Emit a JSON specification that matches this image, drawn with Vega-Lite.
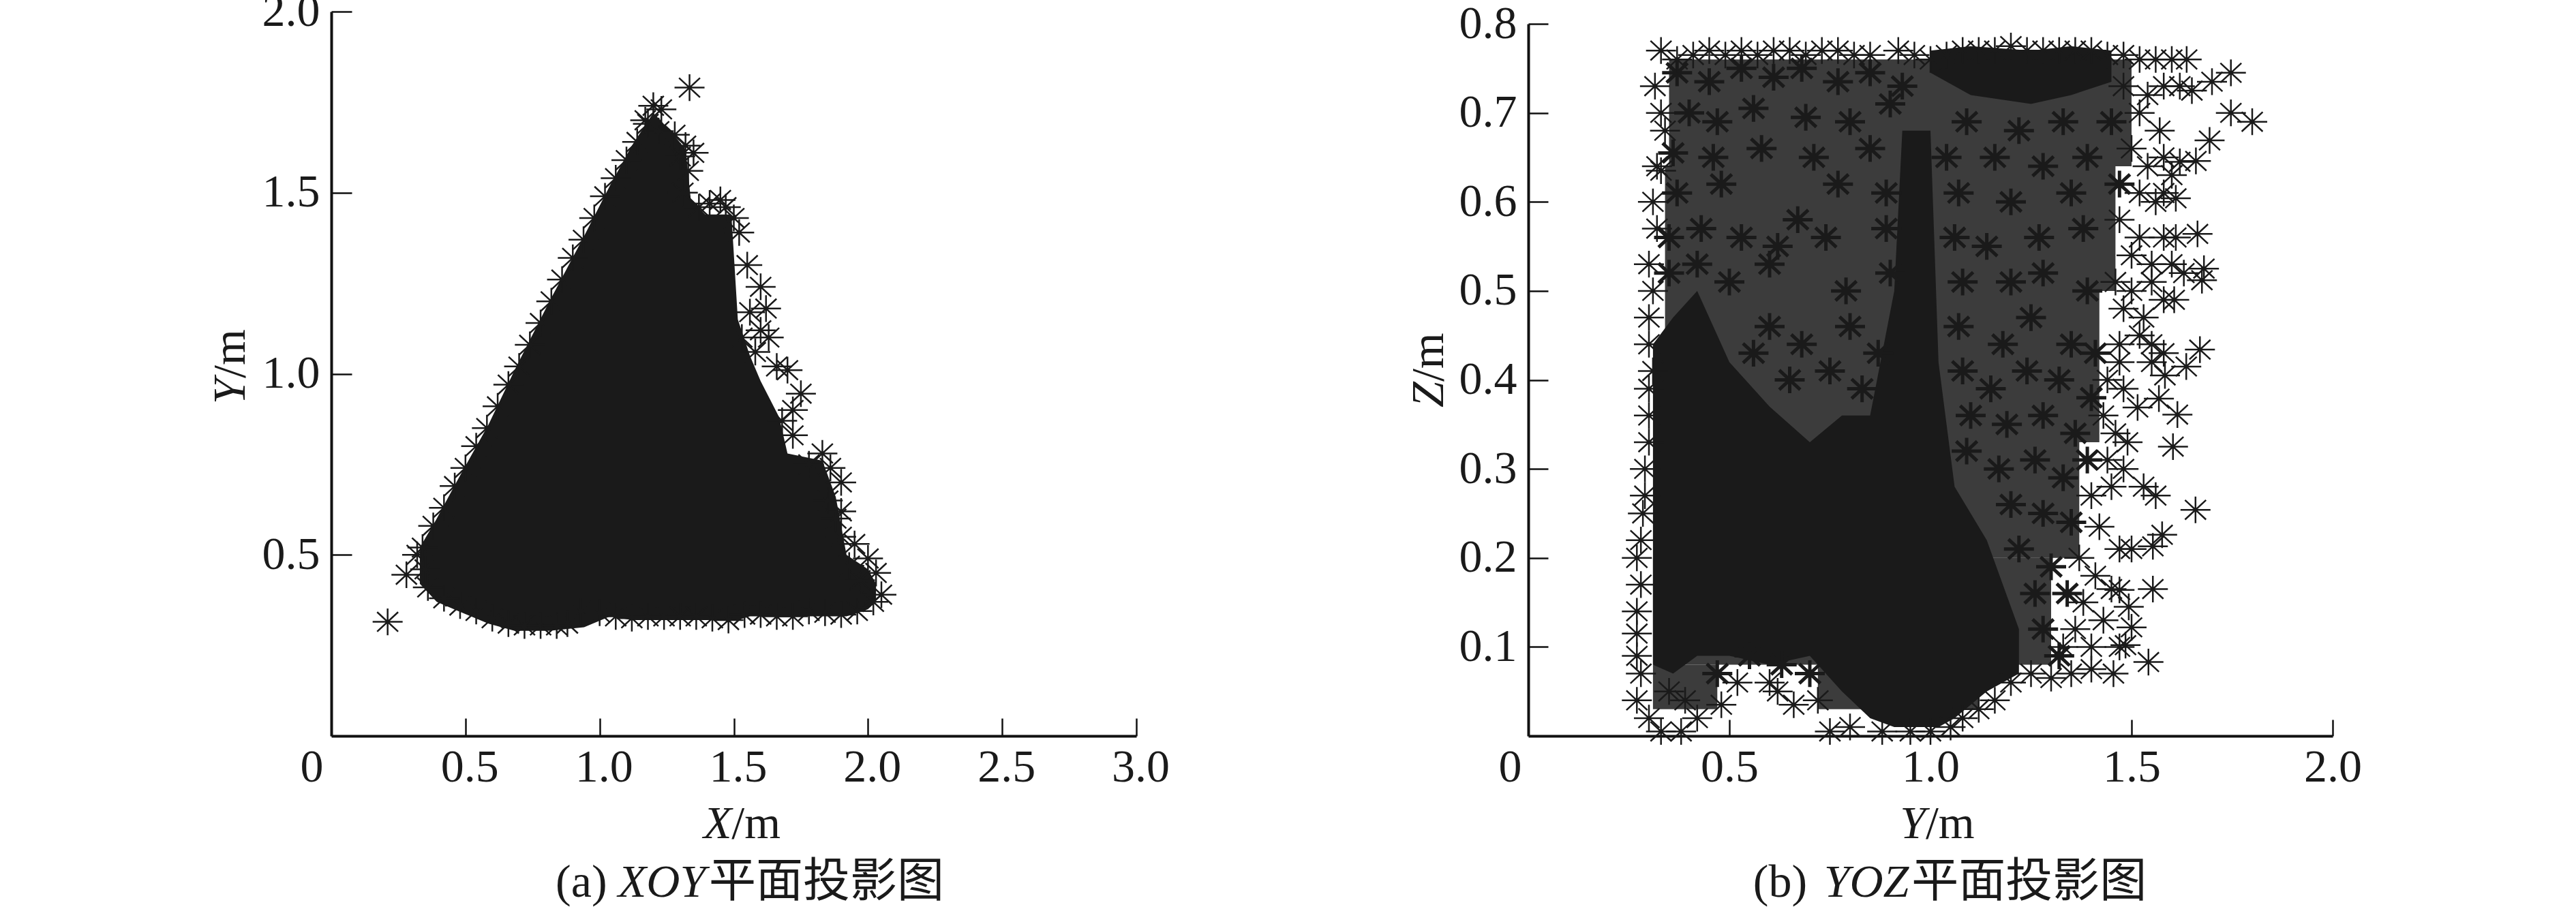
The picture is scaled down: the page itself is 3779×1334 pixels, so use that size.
{"$schema":"https://vega.github.io/schema/vega-lite/v6.json","padding":{"left":305,"top":-17,"right":0,"bottom":0},"background":"white","bounds":"flush","spacing":575,"config":{"view":{"stroke":null},"axis":{"grid":false,"domainColor":"#111","domainWidth":4,"tickColor":"#111","tickWidth":2.5,"labelFont":"Liberation Serif","labelFontSize":68,"labelColor":"#1a1a1a","labelOverlap":false,"labelFlush":false,"labelBound":false,"title":null}},
"datasets":{
"massA":[{"x":0.33,"y":0.42,"y2":0.52},{"x":0.393,"y":0.37,"y2":0.6},{"x":0.473,"y":0.345,"y2":0.71},{"x":0.586,"y":0.31,"y2":0.86},{"x":0.683,"y":0.29,"y2":1.01},{"x":0.813,"y":0.29,"y2":1.2},{"x":0.942,"y":0.3,"y2":1.38},{"x":1.039,"y":0.33,"y2":1.52},{"x":1.12,"y":0.32,"y2":1.63},{"x":1.2,"y":0.32,"y2":1.72},{"x":1.265,"y":0.32,"y2":1.67},{"x":1.32,"y":0.32,"y2":1.62},{"x":1.34,"y":0.32,"y2":1.48},{"x":1.394,"y":0.32,"y2":1.44},{"x":1.491,"y":0.32,"y2":1.44},{"x":1.515,"y":0.32,"y2":1.15},{"x":1.56,"y":0.33,"y2":1.05},{"x":1.6,"y":0.33,"y2":0.98},{"x":1.669,"y":0.33,"y2":0.88},{"x":1.7,"y":0.33,"y2":0.78},{"x":1.83,"y":0.33,"y2":0.76},{"x":1.88,"y":0.33,"y2":0.66},{"x":1.92,"y":0.33,"y2":0.5},{"x":2.0,"y":0.35,"y2":0.46},{"x":2.03,"y":0.37,"y2":0.42}],
"starsA":[{"x":0.21,"y":0.315},{"x":1.335,"y":1.79},{"x":0.28,"y":0.445},{"x":0.32,"y":0.5},{"x":0.35,"y":0.46},{"x":0.36,"y":0.41},{"x":0.42,"y":0.38},{"x":0.48,"y":0.36},{"x":0.54,"y":0.345},{"x":0.6,"y":0.325},{"x":0.66,"y":0.31},{"x":0.72,"y":0.305},{"x":0.78,"y":0.305},{"x":0.84,"y":0.305},{"x":0.88,"y":0.31},{"x":0.93,"y":0.345},{"x":1.0,"y":0.34},{"x":1.06,"y":0.33},{"x":1.12,"y":0.325},{"x":1.18,"y":0.33},{"x":1.24,"y":0.33},{"x":1.3,"y":0.33},{"x":1.36,"y":0.33},{"x":1.42,"y":0.325},{"x":1.48,"y":0.32},{"x":1.54,"y":0.335},{"x":1.6,"y":0.335},{"x":1.66,"y":0.33},{"x":1.72,"y":0.33},{"x":1.78,"y":0.345},{"x":1.84,"y":0.34},{"x":1.9,"y":0.335},{"x":1.96,"y":0.345},{"x":2.02,"y":0.37},{"x":2.05,"y":0.39},{"x":2.03,"y":0.45},{"x":2.0,"y":0.49},{"x":1.97,"y":0.43},{"x":1.93,"y":0.47},{"x":1.95,"y":0.53},{"x":1.9,"y":0.55},{"x":1.88,"y":0.6},{"x":1.9,"y":0.62},{"x":1.85,"y":0.65},{"x":1.9,"y":0.7},{"x":1.86,"y":0.74},{"x":1.83,"y":0.78},{"x":1.78,"y":0.75},{"x":1.72,"y":0.83},{"x":1.72,"y":0.9},{"x":1.75,"y":0.945},{"x":1.68,"y":0.87},{"x":1.7,"y":1.01},{"x":1.66,"y":1.02},{"x":1.63,"y":1.1},{"x":1.6,"y":1.12},{"x":1.56,"y":1.17},{"x":1.62,"y":1.18},{"x":1.6,"y":1.24},{"x":1.55,"y":1.3},{"x":1.53,"y":1.1},{"x":1.58,"y":1.06},{"x":1.52,"y":1.39},{"x":1.5,"y":1.43},{"x":1.47,"y":1.46},{"x":1.45,"y":1.48},{"x":1.41,"y":1.47},{"x":1.37,"y":1.46},{"x":1.31,"y":1.5},{"x":1.33,"y":1.56},{"x":1.3,"y":1.6},{"x":1.35,"y":1.61},{"x":1.32,"y":1.63},{"x":1.28,"y":1.66},{"x":1.22,"y":1.67},{"x":1.17,"y":1.7},{"x":1.2,"y":1.74},{"x":1.23,"y":1.73},{"x":0.34,"y":0.52},{"x":0.38,"y":0.58},{"x":0.42,"y":0.63},{"x":0.46,"y":0.69},{"x":0.5,"y":0.74},{"x":0.54,"y":0.8},{"x":0.58,"y":0.85},{"x":0.62,"y":0.91},{"x":0.66,"y":0.97},{"x":0.7,"y":1.02},{"x":0.74,"y":1.08},{"x":0.78,"y":1.14},{"x":0.82,"y":1.2},{"x":0.86,"y":1.26},{"x":0.9,"y":1.32},{"x":0.94,"y":1.37},{"x":0.98,"y":1.43},{"x":1.02,"y":1.49},{"x":1.06,"y":1.54},{"x":1.1,"y":1.59},{"x":1.14,"y":1.64},{"x":1.18,"y":1.69}],
"massB":[{"band":"trunk","x":0.31,"y":0.08,"y2":0.44},{"band":"trunk","x":0.36,"y":0.07,"y2":0.47},{"band":"trunk","x":0.42,"y":0.09,"y2":0.5},{"band":"trunk","x":0.5,"y":0.09,"y2":0.42},{"band":"trunk","x":0.6,"y":0.08,"y2":0.37},{"band":"trunk","x":0.7,"y":0.09,"y2":0.33},{"band":"trunk","x":0.78,"y":0.05,"y2":0.36},{"band":"trunk","x":0.85,"y":0.02,"y2":0.36},{"band":"trunk","x":0.91,"y":0.01,"y2":0.5},{"band":"trunk","x":0.93,"y":0.01,"y2":0.68},{"band":"trunk","x":1.0,"y":0.01,"y2":0.68},{"band":"trunk","x":1.02,"y":0.01,"y2":0.42},{"band":"trunk","x":1.06,"y":0.02,"y2":0.28},{"band":"trunk","x":1.14,"y":0.05,"y2":0.22},{"band":"trunk","x":1.22,"y":0.07,"y2":0.12},{"band":"top","x":1.0,"y":0.745,"y2":0.77},{"band":"top","x":1.1,"y":0.72,"y2":0.775},{"band":"top","x":1.25,"y":0.71,"y2":0.77},{"band":"top","x":1.35,"y":0.72,"y2":0.775},{"band":"top","x":1.45,"y":0.735,"y2":0.77}],
"hazeB":[{"band":"a","x":0.35,"y":0.64,"y2":0.76},{"band":"a","x":1.5,"y":0.64,"y2":0.76},{"band":"b","x":0.34,"y":0.5,"y2":0.64},{"band":"b","x":1.46,"y":0.5,"y2":0.64},{"band":"c","x":0.34,"y":0.33,"y2":0.5},{"band":"c","x":1.42,"y":0.33,"y2":0.5},{"band":"d","x":0.32,"y":0.2,"y2":0.33},{"band":"d","x":1.37,"y":0.2,"y2":0.33},{"band":"e","x":0.31,"y":0.08,"y2":0.2},{"band":"e","x":1.3,"y":0.08,"y2":0.2},{"band":"f1","x":0.31,"y":0.03,"y2":0.08},{"band":"f1","x":0.47,"y":0.03,"y2":0.08},{"band":"f2","x":0.72,"y":0.03,"y2":0.08},{"band":"f2","x":1.12,"y":0.03,"y2":0.08}],
"denseB":[{"x":0.37,"y":0.745},{"x":0.45,"y":0.735},{"x":0.53,"y":0.75},{"x":0.61,"y":0.74},{"x":0.68,"y":0.75},{"x":0.77,"y":0.735},{"x":0.85,"y":0.745},{"x":0.93,"y":0.73},{"x":0.4,"y":0.7},{"x":0.47,"y":0.69},{"x":0.56,"y":0.705},{"x":0.69,"y":0.695},{"x":0.8,"y":0.69},{"x":0.9,"y":0.71},{"x":1.09,"y":0.69},{"x":1.22,"y":0.68},{"x":1.33,"y":0.69},{"x":1.45,"y":0.69},{"x":0.36,"y":0.655},{"x":0.46,"y":0.65},{"x":0.58,"y":0.66},{"x":0.71,"y":0.65},{"x":0.85,"y":0.66},{"x":1.04,"y":0.65},{"x":1.16,"y":0.65},{"x":1.28,"y":0.64},{"x":1.39,"y":0.65},{"x":0.37,"y":0.61},{"x":0.48,"y":0.62},{"x":0.67,"y":0.58},{"x":0.77,"y":0.62},{"x":0.89,"y":0.61},{"x":1.07,"y":0.61},{"x":1.2,"y":0.6},{"x":1.35,"y":0.61},{"x":1.47,"y":0.62},{"x":0.35,"y":0.56},{"x":0.43,"y":0.57},{"x":0.53,"y":0.56},{"x":0.62,"y":0.55},{"x":0.74,"y":0.56},{"x":0.89,"y":0.57},{"x":1.06,"y":0.56},{"x":1.14,"y":0.55},{"x":1.27,"y":0.56},{"x":1.38,"y":0.57},{"x":0.35,"y":0.52},{"x":0.42,"y":0.53},{"x":0.5,"y":0.51},{"x":0.6,"y":0.53},{"x":0.79,"y":0.5},{"x":0.9,"y":0.52},{"x":1.08,"y":0.51},{"x":1.2,"y":0.51},{"x":1.28,"y":0.52},{"x":1.39,"y":0.5},{"x":0.6,"y":0.46},{"x":0.68,"y":0.44},{"x":0.8,"y":0.46},{"x":0.87,"y":0.43},{"x":1.07,"y":0.46},{"x":1.18,"y":0.44},{"x":1.25,"y":0.47},{"x":1.35,"y":0.44},{"x":1.41,"y":0.43},{"x":0.56,"y":0.43},{"x":0.65,"y":0.4},{"x":0.75,"y":0.41},{"x":0.83,"y":0.39},{"x":1.08,"y":0.41},{"x":1.15,"y":0.39},{"x":1.24,"y":0.41},{"x":1.32,"y":0.4},{"x":1.4,"y":0.38},{"x":1.1,"y":0.36},{"x":1.19,"y":0.35},{"x":1.28,"y":0.36},{"x":1.36,"y":0.34},{"x":1.09,"y":0.32},{"x":1.17,"y":0.3},{"x":1.26,"y":0.31},{"x":1.33,"y":0.29},{"x":1.39,"y":0.31},{"x":1.2,"y":0.26},{"x":1.28,"y":0.25},{"x":1.35,"y":0.24},{"x":1.22,"y":0.21},{"x":1.3,"y":0.19},{"x":1.34,"y":0.16},{"x":1.26,"y":0.16},{"x":1.28,"y":0.12},{"x":1.32,"y":0.09},{"x":0.47,"y":0.07},{"x":0.55,"y":0.09},{"x":0.63,"y":0.08},{"x":0.7,"y":0.07}],
"starsB":[{"x":0.33,"y":0.77},{"x":0.315,"y":0.73},{"x":0.33,"y":0.7},{"x":0.34,"y":0.68},{"x":0.32,"y":0.64},{"x":0.33,"y":0.635},{"x":0.31,"y":0.6},{"x":0.32,"y":0.57},{"x":0.3,"y":0.53},{"x":0.31,"y":0.5},{"x":0.3,"y":0.47},{"x":0.3,"y":0.44},{"x":0.31,"y":0.41},{"x":0.3,"y":0.39},{"x":0.3,"y":0.36},{"x":0.3,"y":0.33},{"x":0.29,"y":0.3},{"x":0.29,"y":0.27},{"x":0.285,"y":0.25},{"x":0.28,"y":0.22},{"x":0.27,"y":0.2},{"x":0.28,"y":0.17},{"x":0.27,"y":0.14},{"x":0.27,"y":0.115},{"x":0.27,"y":0.09},{"x":0.28,"y":0.07},{"x":0.27,"y":0.04},{"x":0.3,"y":0.02},{"x":0.33,"y":0.005},{"x":0.38,"y":0.005},{"x":0.42,"y":0.02},{"x":0.39,"y":0.04},{"x":0.35,"y":0.05},{"x":0.48,"y":0.035},{"x":0.52,"y":0.06},{"x":0.6,"y":0.06},{"x":0.66,"y":0.035},{"x":0.62,"y":0.05},{"x":0.72,"y":0.04},{"x":0.75,"y":0.005},{"x":0.8,"y":0.01},{"x":0.88,"y":0.005},{"x":0.95,"y":0.005},{"x":1.0,"y":0.005},{"x":1.05,"y":0.01},{"x":1.08,"y":0.02},{"x":1.12,"y":0.03},{"x":1.16,"y":0.04},{"x":1.2,"y":0.06},{"x":1.25,"y":0.07},{"x":1.3,"y":0.065},{"x":1.35,"y":0.07},{"x":1.4,"y":0.075},
{"x":0.37,"y":0.76},{"x":0.41,"y":0.765},{"x":0.45,"y":0.77},{"x":0.49,"y":0.765},{"x":0.53,"y":0.77},{"x":0.57,"y":0.765},{"x":0.61,"y":0.77},{"x":0.65,"y":0.77},{"x":0.69,"y":0.765},{"x":0.73,"y":0.77},{"x":0.77,"y":0.77},{"x":0.81,"y":0.765},{"x":0.85,"y":0.765},{"x":0.92,"y":0.77},{"x":0.96,"y":0.765},{"x":1.0,"y":0.76},{"x":1.04,"y":0.765},{"x":1.08,"y":0.77},{"x":1.12,"y":0.77},{"x":1.16,"y":0.77},{"x":1.2,"y":0.775},{"x":1.24,"y":0.77},{"x":1.28,"y":0.77},{"x":1.32,"y":0.77},{"x":1.36,"y":0.77},{"x":1.4,"y":0.77},{"x":1.44,"y":0.765},{"x":1.48,"y":0.765},{"x":1.52,"y":0.76},{"x":1.56,"y":0.76},{"x":1.6,"y":0.76},
{"x":1.48,"y":0.73},{"x":1.54,"y":0.72},{"x":1.58,"y":0.73},{"x":1.62,"y":0.73},{"x":1.65,"y":0.725},{"x":1.52,"y":0.7},{"x":1.57,"y":0.68},{"x":1.5,"y":0.66},{"x":1.54,"y":0.64},{"x":1.58,"y":0.65},{"x":1.6,"y":0.63},{"x":1.62,"y":0.645},{"x":1.52,"y":0.61},{"x":1.56,"y":0.6},{"x":1.58,"y":0.61},{"x":1.47,"y":0.58},{"x":1.52,"y":0.56},{"x":1.58,"y":0.56},{"x":1.61,"y":0.56},{"x":1.5,"y":0.54},{"x":1.55,"y":0.53},{"x":1.6,"y":0.53},{"x":1.63,"y":0.52},{"x":1.46,"y":0.51},{"x":1.5,"y":0.5},{"x":1.55,"y":0.51},{"x":1.58,"y":0.49},{"x":1.48,"y":0.48},{"x":1.53,"y":0.47},{"x":1.47,"y":0.44},{"x":1.52,"y":0.45},{"x":1.55,"y":0.44},{"x":1.58,"y":0.43},{"x":1.55,"y":0.42},{"x":1.47,"y":0.42},{"x":1.44,"y":0.4},{"x":1.48,"y":0.39},{"x":1.43,"y":0.36},{"x":1.46,"y":0.34},{"x":1.49,"y":0.33},{"x":1.44,"y":0.31},{"x":1.48,"y":0.3},{"x":1.45,"y":0.28},{"x":1.53,"y":0.28},{"x":1.4,"y":0.27},{"x":1.42,"y":0.235},{"x":1.47,"y":0.21},{"x":1.37,"y":0.2},{"x":1.41,"y":0.18},{"x":1.45,"y":0.165},{"x":1.38,"y":0.15},{"x":1.43,"y":0.13},{"x":1.4,"y":0.1},{"x":1.36,"y":0.12},{"x":1.33,"y":0.1},
{"x":1.747,"y":0.745},{"x":1.747,"y":0.7},{"x":1.8,"y":0.69},{"x":1.694,"y":0.669},{"x":1.66,"y":0.646},{"x":1.637,"y":0.76},{"x":1.7,"y":0.735},{"x":1.61,"y":0.604},{"x":1.664,"y":0.564},{"x":1.68,"y":0.525},{"x":1.675,"y":0.512},{"x":1.606,"y":0.49},{"x":1.67,"y":0.434},{"x":1.636,"y":0.415},{"x":1.583,"y":0.405},{"x":1.568,"y":0.379},{"x":1.515,"y":0.369},{"x":1.614,"y":0.361},{"x":1.603,"y":0.325},{"x":1.659,"y":0.254},{"x":1.56,"y":0.27},{"x":1.576,"y":0.226},{"x":1.553,"y":0.213},{"x":1.553,"y":0.165},{"x":1.542,"y":0.083},{"x":1.455,"y":0.07},{"x":1.485,"y":0.102},{"x":1.5,"y":0.122},{"x":1.493,"y":0.145},{"x":1.47,"y":0.164},{"x":1.5,"y":0.21},{"x":1.47,"y":0.1}],
"textA":[{"kind":"italic","x":1.387,"y":-0.282,"text":"X"},{"kind":"roman","x":1.492,"y":-0.282,"text":"/m"},{"kind":"roman","x":0.836,"y":-0.444,"text":"(a)"},{"kind":"italic","x":1.069,"y":-0.444,"text":"XOY"},{"kind":"cjk","x":1.407,"y":-0.444,"text":"平面投影图"},{"kind":"italicV","x":-0.3226,"y":0.916,"text":"Y"},{"kind":"romanV","x":-0.3226,"y":0.988,"text":"/m"}],
"textB":[{"kind":"italic","x":0.924,"y":-0.1149,"text":"Y"},{"kind":"roman","x":0.988,"y":-0.1149,"text":"/m"},{"kind":"roman","x":0.559,"y":-0.1807,"text":"(b)"},{"kind":"italic","x":0.735,"y":-0.1807,"text":"YOZ"},{"kind":"cjk","x":0.953,"y":-0.1807,"text":"平面投影图"},{"kind":"italicV","x":-0.2119,"y":0.369,"text":"Z"},{"kind":"romanV","x":-0.2119,"y":0.398,"text":"/m"}]
},
"hconcat":[
{"width":1181,"height":1063,
"encoding":{"x":{"field":"x","type":"quantitative","scale":{"domain":[0,3],"nice":false,"zero":false},"axis":{"values":[0,0.5,1,1.5,2,2.5,3],"tickSize":-26,"labelPadding":92,"labelBaseline":"alphabetic","labelOffset":{"condition":{"test":"datum.value===0","value":-29},"value":6},"labelExpr":"datum.value===0?'0':format(datum.value,'.1f')"}},"y":{"field":"y","type":"quantitative","stack":null,"scale":{"domain":[0,2],"nice":false,"zero":false,"range":[1063,0]},"axis":{"values":[0.5,1,1.5,2],"tickSize":-30,"labelPadding":47,"labelExpr":"format(datum.value,'.1f')"}}},
"layer":[
{"data":{"name":"massA"},"mark":{"type":"area","color":"#1a1a1a"},"encoding":{"y2":{"field":"y2"}}},
{"data":{"name":"starsA"},"mark":{"type":"point","filled":false,"stroke":"#1a1a1a","strokeWidth":2.5,"opacity":1,"size":1936,"shape":"M-1,0L1,0M0,-0.89L0,0.89M-0.7,-0.65L0.7,0.65M-0.7,0.65L0.7,-0.65"}},
{"data":{"name":"textA"},"transform":[{"filter":"datum.kind==='italic'"}],"mark":{"type":"text","align":"left","baseline":"alphabetic","font":"Liberation Serif","fontStyle":"italic","fontSize":68,"color":"#1a1a1a"},"encoding":{"text":{"field":"text"}}},
{"data":{"name":"textA"},"transform":[{"filter":"datum.kind==='roman'"}],"mark":{"type":"text","align":"left","baseline":"alphabetic","font":"Liberation Serif","fontSize":68,"color":"#1a1a1a"},"encoding":{"text":{"field":"text"}}},
{"data":{"name":"textA"},"transform":[{"filter":"datum.kind==='cjk'"}],"mark":{"type":"text","align":"left","baseline":"alphabetic","font":"Noto Sans CJK SC","fontSize":69,"color":"#1a1a1a"},"encoding":{"text":{"field":"text"}}},
{"data":{"name":"textA"},"transform":[{"filter":"datum.kind==='italicV'"}],"mark":{"type":"text","align":"left","baseline":"alphabetic","angle":270,"font":"Liberation Serif","fontStyle":"italic","fontSize":68,"color":"#1a1a1a"},"encoding":{"text":{"field":"text"}}},
{"data":{"name":"textA"},"transform":[{"filter":"datum.kind==='romanV'"}],"mark":{"type":"text","align":"left","baseline":"alphabetic","angle":270,"font":"Liberation Serif","fontSize":68,"color":"#1a1a1a"},"encoding":{"text":{"field":"text"}}}
]},
{"width":1180,"height":1063,
"encoding":{"x":{"field":"x","type":"quantitative","scale":{"domain":[0,2],"nice":false,"zero":false},"axis":{"values":[0,0.5,1,1.5,2],"tickSize":-24,"labelPadding":90,"labelBaseline":"alphabetic","labelOffset":{"condition":{"test":"datum.value===0","value":-27},"value":0},"labelExpr":"datum.value===0?'0':format(datum.value,'.1f')"}},"y":{"field":"y","type":"quantitative","stack":null,"scale":{"domain":[0,0.8],"nice":false,"zero":false,"range":[1063,18]},"axis":{"values":[0.1,0.2,0.3,0.4,0.5,0.6,0.7,0.8],"tickSize":-29,"labelPadding":46,"labelExpr":"format(datum.value,'.1f')"}}},
"layer":[
{"data":{"name":"hazeB"},"mark":{"type":"area","color":"#1a1a1a","opacity":0.85},"encoding":{"y2":{"field":"y2"},"detail":{"field":"band"}}},
{"data":{"name":"massB"},"mark":{"type":"area","color":"#1a1a1a"},"encoding":{"y2":{"field":"y2"},"detail":{"field":"band"}}},
{"data":{"name":"denseB"},"mark":{"type":"point","filled":false,"stroke":"#1a1a1a","strokeWidth":5,"opacity":1,"size":1936,"shape":"M-1,0L1,0M0,-0.89L0,0.89M-0.7,-0.65L0.7,0.65M-0.7,0.65L0.7,-0.65"}},
{"data":{"name":"starsB"},"mark":{"type":"point","filled":false,"stroke":"#1a1a1a","strokeWidth":2.5,"opacity":1,"size":1936,"shape":"M-1,0L1,0M0,-0.89L0,0.89M-0.7,-0.65L0.7,0.65M-0.7,0.65L0.7,-0.65"}},
{"data":{"name":"textB"},"transform":[{"filter":"datum.kind==='italic'"}],"mark":{"type":"text","align":"left","baseline":"alphabetic","font":"Liberation Serif","fontStyle":"italic","fontSize":68,"color":"#1a1a1a"},"encoding":{"text":{"field":"text"}}},
{"data":{"name":"textB"},"transform":[{"filter":"datum.kind==='roman'"}],"mark":{"type":"text","align":"left","baseline":"alphabetic","font":"Liberation Serif","fontSize":68,"color":"#1a1a1a"},"encoding":{"text":{"field":"text"}}},
{"data":{"name":"textB"},"transform":[{"filter":"datum.kind==='cjk'"}],"mark":{"type":"text","align":"left","baseline":"alphabetic","font":"Noto Sans CJK SC","fontSize":69,"color":"#1a1a1a"},"encoding":{"text":{"field":"text"}}},
{"data":{"name":"textB"},"transform":[{"filter":"datum.kind==='italicV'"}],"mark":{"type":"text","align":"left","baseline":"alphabetic","angle":270,"font":"Liberation Serif","fontStyle":"italic","fontSize":68,"color":"#1a1a1a"},"encoding":{"text":{"field":"text"}}},
{"data":{"name":"textB"},"transform":[{"filter":"datum.kind==='romanV'"}],"mark":{"type":"text","align":"left","baseline":"alphabetic","angle":270,"font":"Liberation Serif","fontSize":68,"color":"#1a1a1a"},"encoding":{"text":{"field":"text"}}}
]}
]}
